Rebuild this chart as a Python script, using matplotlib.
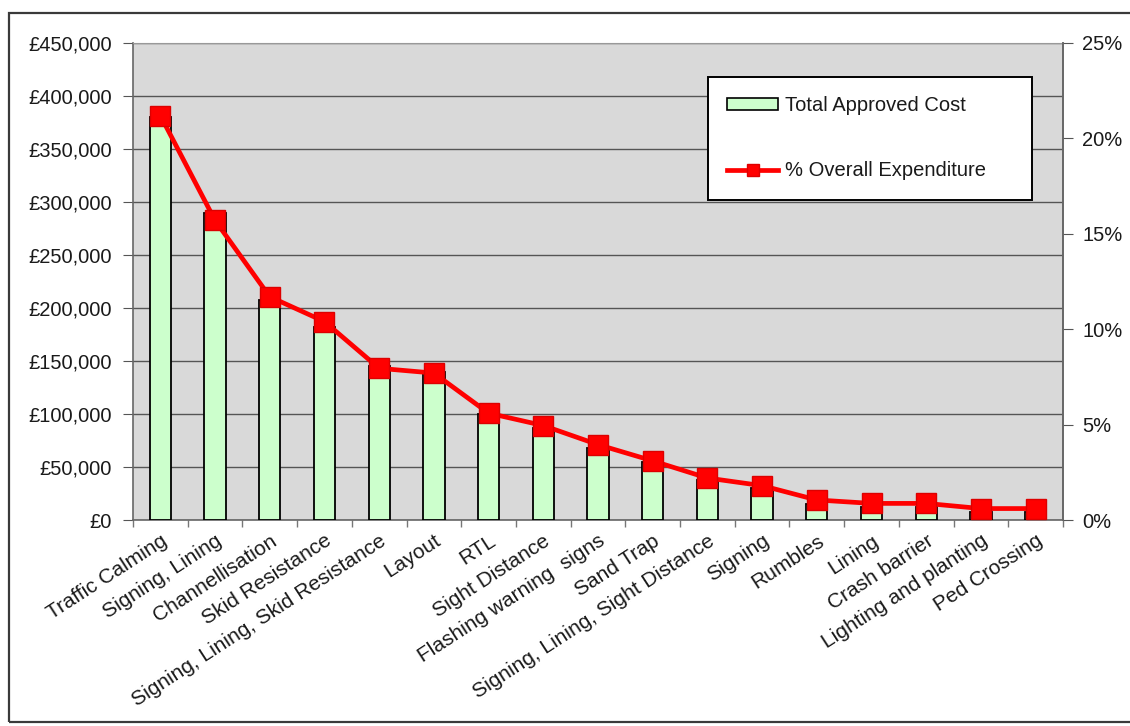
import matplotlib
matplotlib.use("Agg")
import matplotlib.pyplot as plt
from matplotlib.patches import Rectangle, Patch
from matplotlib.lines import Line2D
from matplotlib.ticker import FuncFormatter, FixedLocator
import numpy as np

# Scheme types, ordered by approved spend
categories = [
    "Traffic Calming", "Signing, Lining", "Channellisation", "Skid Resistance",
    "Signing, Lining, Skid Resistance", "Layout", "RTL", "Sight Distance",
    "Flashing warning  signs", "Sand Trap", "Signing, Lining, Sight Distance",
    "Signing", "Rumbles", "Lining", "Crash barrier", "Lighting and planting",
    "Ped Crossing",
]

# Total approved cost per scheme type (GBP)
approved_cost = [380000, 290000, 208000, 182000, 145000, 140000, 100000, 87000,
                 68000, 55000, 38000, 30000, 15000, 12000, 12000, 8000, 8000]

# Share of overall expenditure (%)
pct_expenditure = [21.2, 15.7, 11.7, 10.4, 7.95, 7.7, 5.6, 4.95,
                   3.95, 3.1, 2.2, 1.8, 1.05, 0.87, 0.87, 0.6, 0.6]

cost_ticks = list(range(0, 450001, 50000))
pct_ticks = [0, 5, 10, 15, 20, 25]

FONT = "Liberation Sans"
plt.rcParams["font.family"] = [FONT, "DejaVu Sans"]

W, H = 1130, 726
fig = plt.figure(figsize=(W / 100, H / 100), dpi=100)
fig.patch.set_facecolor("white")

# outer chart border
fig.patches.append(Rectangle((9 / W, 4 / H), 1.2, (722 - 13) / H,
                             transform=fig.transFigure, fill=False,
                             edgecolor="#3a3a3a", linewidth=1.6, zorder=0))

left, right, top, bottom = 133, 1063, 43, 520
ax = fig.add_axes([left / W, 1 - bottom / H, (right - left) / W, (bottom - top) / H])
ax.set_facecolor("#d9d9d9")

x = np.arange(len(categories))
ax.bar(x, approved_cost, width=0.39, color="#ccffcc", edgecolor="black",
       linewidth=1.3, zorder=3)

ax.set_xlim(-0.5, len(categories) - 0.5)
ax.set_ylim(0, 450000)
ax.yaxis.set_major_locator(FixedLocator(cost_ticks))
ax.yaxis.set_major_formatter(FuncFormatter(lambda v, p: "£{:,.0f}".format(v)))
ax.set_axisbelow(True)
ax.grid(axis="y", color="#555555", linewidth=1.0)
ax.grid(axis="x", visible=False)

# category labels on major ticks, boundary tick marks as minor ticks
ax.set_xticks(x)
ax.set_xticklabels(categories, rotation=33, ha="right", va="top",
                   rotation_mode="anchor", fontsize=15, color="#1a1a1a")
ax.tick_params(axis="x", which="major", length=0, pad=8)
ax.xaxis.set_minor_locator(FixedLocator(np.arange(-0.5, len(categories), 1.0)))
ax.tick_params(axis="x", which="minor", length=5, color="#777777", width=1)

ax.tick_params(axis="y", length=7, color="#555555", labelsize=14.5,
               labelcolor="#1a1a1a", pad=8)
for side in ("left", "bottom", "right"):
    ax.spines[side].set_color("#666666")
    ax.spines[side].set_linewidth(1.2)
ax.spines["top"].set_color("#999999")

ax2 = ax.twinx()
ax2.plot(x, pct_expenditure, color="#ff0000", linewidth=3.4,
         marker="s", markersize=15, markerfacecolor="#ff0000",
         markeredgecolor="#dd0000", zorder=5)
ax2.set_ylim(0, 25)
ax2.yaxis.set_major_locator(FixedLocator(pct_ticks))
ax2.yaxis.set_major_formatter(FuncFormatter(lambda v, p: "{:.0f}%".format(v)))
ax2.tick_params(axis="y", length=7, color="#555555", labelsize=14.5,
                labelcolor="#1a1a1a", pad=7)
for side in ("left", "bottom", "top"):
    ax2.spines[side].set_visible(False)
ax2.spines["right"].set_color("#666666")
ax2.spines["right"].set_linewidth(1.2)

handles = [
    Patch(facecolor="#ccffcc", edgecolor="black", linewidth=1.2),
    Line2D([0], [0], color="#ff0000", linewidth=3.4, marker="s",
           markersize=9, markerfacecolor="#ff0000", markeredgecolor="#dd0000"),
]
labels = ["Total Approved Cost", "% Overall Expenditure"]
lx0, lx1, ly0, ly1 = 708, 1032, 77, 193
leg = ax2.legend(handles, labels, loc="upper left",
                 bbox_to_anchor=(lx0 / W, 1 - ly1 / H, (lx1 - lx0) / W, (ly1 - ly0) / H),
                 bbox_transform=fig.transFigure, mode="expand",
                 fontsize=14.5, frameon=True, fancybox=False, framealpha=1,
                 edgecolor="black", borderpad=0.95, labelspacing=2.3,
                 handlelength=2.55, handleheight=0.55, handletextpad=0.3,
                 borderaxespad=0)
leg.get_frame().set_linewidth(1.4)
for t in leg.get_texts():
    t.set_color("#1a1a1a")

fig.savefig("out.png", dpi=100, facecolor="white")
